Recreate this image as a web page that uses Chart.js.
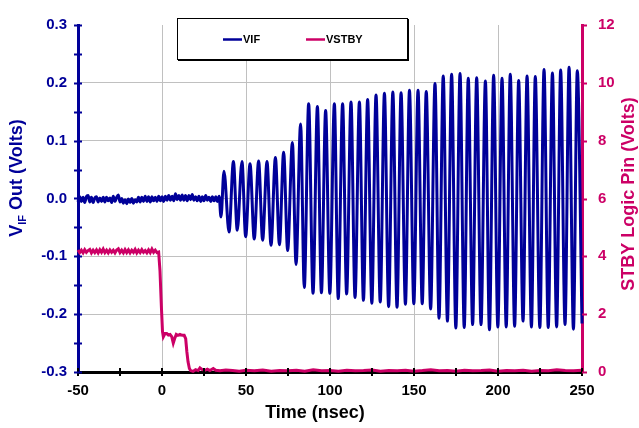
<!DOCTYPE html>
<html>
<head>
<meta charset="utf-8">
<script src="https://cdn.jsdelivr.net/npm/chart.js@4.4.1/dist/chart.umd.min.js"></script>
<style>
  body { margin: 0; background: #fff; }
  canvas { display: block; }
</style>
</head>
<body>
<canvas id="GraficoVif" width="639" height="428"></canvas>
<script>
// VIF antes do start: ruido, uma amostra por ns a partir de -50 ns
var vifRuidoInicio = -50;
var vifRuidoPasso = 1;
var vifRuido = [
    -0.006, 0.003, -0.005, 0.002, -0.007, 0.003, 0.005, -0.006, 0.002, -0.007,
    0.001, 0.003, -0.006, 0.001, -0.005, 0.002, -0.006, 0.002, -0.004, 0.001,
    -0.007, 0.004, -0.005, 0.002, 0.006, -0.006, 0.000, -0.008, -0.002, -0.009,
    -0.001, -0.007, 0.000, -0.008, -0.002, -0.006, 0.002, -0.006, 0.002, -0.005,
    0.004, -0.005, 0.003, -0.006, 0.003, -0.004, 0.002, -0.005, 0.004, -0.004,
    0.003, -0.005, 0.004, -0.003, 0.005, -0.003, 0.004, -0.004, 0.008, -0.002,
    0.005, -0.003, 0.006, -0.003, 0.005, -0.004, 0.005, -0.002, 0.007, -0.003,
    0.003, -0.004, 0.004, -0.005, 0.003, -0.004, 0.005, -0.003, 0.002, -0.005,
    0.003, -0.004, 0.003, -0.005, 0.004
];
var vifInicioT = [35.1];
var vifInicioV = [-0.032];

// oscilacao: picos e vales
var picosT = [36.9, 42.5, 47.6, 52.4, 57.5, 62.5, 67.5, 72.4, 77.6, 82.5,
    87.3, 92.5, 97.4, 102.6, 107.5, 112.5, 117.5, 122.4, 127.4, 132.4,
    137.4, 142.3, 147.3, 152.4, 157.3, 162.5, 167.4, 172.4, 177.4, 182.3,
    187.3, 192.5, 197.4, 202.4, 207.3, 212.3, 217.3, 222.2, 227.4, 232.4,
    237.3, 242.3, 247.2];
var picosV = [0.047, 0.064, 0.064, 0.060, 0.065, 0.064, 0.071, 0.080, 0.097, 0.129,
    0.164, 0.159, 0.152, 0.164, 0.164, 0.167, 0.167, 0.171, 0.179, 0.182,
    0.184, 0.183, 0.187, 0.187, 0.185, 0.199, 0.212, 0.215, 0.216, 0.208,
    0.209, 0.203, 0.213, 0.208, 0.215, 0.204, 0.212, 0.211, 0.223, 0.217,
    0.222, 0.227, 0.221];
var valesT = [39.9, 44.8, 49.8, 54.9, 59.9, 64.9, 69.9, 74.8, 79.8, 84.7,
    89.9, 94.9, 99.9, 104.9, 109.9, 114.9, 119.9, 124.9, 129.9, 134.9,
    139.9, 144.9, 149.9, 154.9, 159.9, 164.9, 169.9, 174.9, 179.9, 184.9,
    189.9, 194.9, 199.9, 204.9, 209.9, 214.9, 219.9, 224.9, 229.9, 234.9,
    239.9, 244.9, 250];
var valesV = [-0.058, -0.055, -0.066, -0.070, -0.072, -0.081, -0.080, -0.090, -0.114, -0.154,
    -0.164, -0.163, -0.164, -0.173, -0.165, -0.171, -0.176, -0.181, -0.179, -0.187,
    -0.188, -0.183, -0.182, -0.182, -0.191, -0.207, -0.212, -0.224, -0.223, -0.218,
    -0.218, -0.227, -0.222, -0.222, -0.221, -0.212, -0.222, -0.223, -0.223, -0.222,
    -0.218, -0.226, -0.216];

// VSTBY: nivel alto, uma amostra por ns de -50 a -3 ns
var stbyAltoInicio = -50;
var stbyAltoPasso = 1;
var stbyAlto = [
    4.22, 4.13, 4.21, 4.12, 4.23, 4.14, 4.20, 4.24, 4.12, 4.21,
    4.13, 4.22, 4.12, 4.23, 4.14, 4.25, 4.13, 4.21, 4.12, 4.22,
    4.14, 4.21, 4.12, 4.22, 4.26, 4.13, 4.21, 4.12, 4.23, 4.13,
    4.22, 4.12, 4.21, 4.14, 4.24, 4.12, 4.21, 4.13, 4.23, 4.14,
    4.20, 4.12, 4.22, 4.13, 4.25, 4.14, 4.21, 4.13
];
// descida e resto da curva
var stbyT = [-2.0, -1.2, -0.4, 0.3, 0.8, 1.8, 2.8, 3.8, 4.8, 5.8,
    6.7, 7.5, 8.5, 9.5, 10.7, 12.0, 13.2, 14.1, 14.8, 15.5,
    16.3, 17.0, 18.5, 20.0, 21.5, 22.6, 24.0, 25.6, 27.0, 28.5,
    30.5, 32.0, 34.5, 38, 42, 46, 50, 55, 60, 65,
    70, 75, 80, 85, 90, 95, 100, 105, 110, 115,
    120, 125, 130, 135, 140, 145, 150, 155, 160, 165,
    170, 175, 180, 185, 190, 195, 200, 205, 210, 215,
    220, 225, 230, 235, 240, 245, 250];
var stbyV = [4.15, 3.50, 2.30, 1.40, 1.22, 1.33, 1.33, 1.28, 1.30, 1.22,
    1.00, 1.15, 1.30, 1.27, 1.30, 1.27, 1.27, 1.15, 0.70, 0.35,
    0.12, 0.05, 0.02, 0.08, 0.05, 0.14, 0.08, 0.06, 0.10, 0.05,
    0.12, 0.06, 0.04, 0.07, 0.05, 0.03, 0.06, 0.04, 0.07, 0.03,
    0.05, 0.04, 0.06, 0.03, 0.08, 0.04, 0.05, 0.03, 0.06, 0.04,
    0.05, 0.07, 0.03, 0.05, 0.04, 0.06, 0.03, 0.05, 0.08, 0.04,
    0.05, 0.03, 0.06, 0.04, 0.05, 0.07, 0.03, 0.05, 0.04, 0.06,
    0.03, 0.05, 0.04, 0.08, 0.05, 0.04, 0.06];

// eixos
var eixoX = { min: -50, max: 250, passo: 50, passoMarca: 25 };
var eixoVif = { min: -0.3, max: 0.3, passo: 0.1, passoMarca: 0.05 };
var eixoStby = { min: 0, max: 12, passo: 2 };

var corVif = '#000099';
var corStby = '#cc0066';
var fonte = '"Liberation Sans", Arial, sans-serif';

function MontarVif() {
    var pontos = [];
    for (var i = 0; i < vifRuido.length; i++) {
        pontos.push({ x: vifRuidoInicio + i * vifRuidoPasso, y: vifRuido[i] });
    }
    for (var j = 0; j < vifInicioT.length; j++) {
        pontos.push({ x: vifInicioT[j], y: vifInicioV[j] });
    }
    for (var k = 0; k < picosT.length; k++) {
        pontos.push({ x: picosT[k], y: picosV[k] });
        pontos.push({ x: valesT[k], y: valesV[k] });
    }
    return pontos;
}

function MontarStby() {
    var pontos = [];
    for (var i = 0; i < stbyAlto.length; i++) {
        pontos.push({ x: stbyAltoInicio + i * stbyAltoPasso, y: stbyAlto[i] });
    }
    for (var j = 0; j < stbyT.length; j++) {
        pontos.push({ x: stbyT[j], y: stbyV[j] });
    }
    return pontos;
}

// marcas cruzando os eixos, titulos e legenda no estilo do Excel
var extras = {
    id: 'extras',
    afterDraw: function (chart) {
        var ctx = chart.ctx;
        var area = chart.chartArea;
        var sx = chart.scales.x, sy = chart.scales.y, sy2 = chart.scales.y2;
        var v, p;
        ctx.save();

        ctx.lineWidth = 2;
        ctx.strokeStyle = '#000000';
        for (v = eixoX.min; v <= eixoX.max; v += eixoX.passoMarca) {
            p = Math.round(sx.getPixelForValue(v));
            ctx.beginPath(); ctx.moveTo(p, area.bottom - 4); ctx.lineTo(p, area.bottom + 4); ctx.stroke();
        }
        ctx.strokeStyle = corVif;
        for (var n = 0; n <= Math.round((eixoVif.max - eixoVif.min) / eixoVif.passoMarca); n++) {
            p = Math.round(sy.getPixelForValue(eixoVif.min + n * eixoVif.passoMarca)) + 0.5;
            ctx.beginPath(); ctx.moveTo(area.left - 4, p); ctx.lineTo(area.left + 4, p); ctx.stroke();
        }
        ctx.strokeStyle = corStby;
        for (v = eixoStby.min; v <= eixoStby.max; v += eixoStby.passo) {
            p = Math.round(sy2.getPixelForValue(v)) + 0.5;
            ctx.beginPath(); ctx.moveTo(area.right, p); ctx.lineTo(area.right + 5, p); ctx.stroke();
        }

        // titulos dos eixos
        ctx.textBaseline = 'alphabetic';
        ctx.fillStyle = '#000000';
        ctx.font = 'bold 18px ' + fonte;
        ctx.textAlign = 'center';
        ctx.fillText('Time (nsec)', 315, 418);

        ctx.save();
        ctx.translate(22, 178);
        ctx.rotate(-Math.PI / 2);
        ctx.fillStyle = corVif;
        ctx.textAlign = 'left';
        ctx.font = 'bold 18px ' + fonte;
        var wV = ctx.measureText('V').width;
        var wResto = ctx.measureText(' Out (Volts)').width;
        ctx.font = 'bold 11px ' + fonte;
        var wSub = ctx.measureText('IF').width;
        var x0 = -(wV + wSub + wResto) / 2;
        ctx.font = 'bold 18px ' + fonte;
        ctx.fillText('V', x0, 0);
        ctx.font = 'bold 11px ' + fonte;
        ctx.fillText('IF', x0 + wV, 4);
        ctx.font = 'bold 18px ' + fonte;
        ctx.fillText(' Out (Volts)', x0 + wV + wSub, 0);
        ctx.restore();

        ctx.save();
        ctx.translate(634, 194);
        ctx.rotate(-Math.PI / 2);
        ctx.fillStyle = corStby;
        ctx.textAlign = 'center';
        ctx.font = 'bold 18px ' + fonte;
        ctx.fillText('STBY Logic Pin (Volts)', 0, 0);
        ctx.restore();

        // legenda
        ctx.fillStyle = '#ffffff';
        ctx.fillRect(178, 19, 230, 41);
        ctx.strokeStyle = '#000000';
        ctx.lineWidth = 1;
        ctx.strokeRect(177.5, 18.5, 230, 41);
        ctx.fillStyle = '#000000';
        ctx.fillRect(408, 19, 1, 42);
        ctx.fillRect(178, 60, 231, 1);
        var itens = [{ x: 223, t: 243 }, { x: 306, t: 326 }];
        ctx.font = 'bold 11px ' + fonte;
        ctx.textAlign = 'left';
        ctx.textBaseline = 'middle';
        chart.data.datasets.forEach(function (ds, i) {
            ctx.strokeStyle = ds.borderColor;
            ctx.lineWidth = 2.5;
            ctx.beginPath(); ctx.moveTo(itens[i].x, 39.5); ctx.lineTo(itens[i].x + 19, 39.5); ctx.stroke();
            ctx.fillStyle = '#000000';
            ctx.fillText(ds.label, itens[i].t, 40);
        });
        ctx.restore();
    }
};

function Rotulo(v) {
    if (Math.abs(v) < 1e-9) return '0.0';
    return v.toFixed(1);
}

new Chart(document.getElementById('GraficoVif'), {
    type: 'line',
    data: {
        datasets: [{
            label: 'VIF',
            data: MontarVif(),
            yAxisID: 'y',
            borderColor: corVif,
            borderWidth: 3,
            pointRadius: 0,
            cubicInterpolationMode: 'monotone',
            fill: false,
            clip: 4
        }, {
            label: 'VSTBY',
            data: MontarStby(),
            yAxisID: 'y2',
            borderColor: corStby,
            borderWidth: 3,
            pointRadius: 0,
            tension: 0,
            fill: false,
            clip: 4
        }]
    },
    options: {
        responsive: false,
        animation: false,
        devicePixelRatio: 1,
        layout: { padding: { top: 13, left: 0, right: 0, bottom: 0 } },
        plugins: {
            legend: { display: false },
            tooltip: { enabled: false },
            title: { display: false }
        },
        scales: {
            x: {
                type: 'linear',
                min: eixoX.min,
                max: eixoX.max,
                afterFit: function (s) { s.height = 56; },
                border: { color: '#000000', width: 3 },
                grid: {
                    drawTicks: false,
                    color: function (c) {
                        var v = c.tick ? c.tick.value : 0;
                        return (v === eixoX.min || v === eixoX.max) ? 'rgba(0,0,0,0)' : '#c0c0c0';
                    }
                },
                ticks: {
                    stepSize: eixoX.passo,
                    autoSkip: false,
                    maxRotation: 0,
                    padding: 10,
                    color: '#000000',
                    font: { family: fonte, size: 15, weight: 'bold' }
                }
            },
            y: {
                position: 'left',
                min: eixoVif.min,
                max: eixoVif.max,
                afterFit: function (s) { s.width = 78; },
                border: { color: corVif, width: 3 },
                grid: {
                    drawTicks: false,
                    color: function (c) {
                        var v = c.tick ? c.tick.value : 0;
                        return (Math.abs(v) > 0.29) ? 'rgba(0,0,0,0)' : '#c0c0c0';
                    }
                },
                ticks: {
                    stepSize: eixoVif.passo,
                    padding: 11,
                    color: corVif,
                    font: { family: fonte, size: 15, weight: 'bold' },
                    callback: function (v) { return Rotulo(v); }
                }
            },
            y2: {
                position: 'right',
                min: eixoStby.min,
                max: eixoStby.max,
                afterFit: function (s) { s.width = 57; },
                border: { color: corStby, width: 3 },
                grid: { display: false, drawTicks: false },
                ticks: {
                    stepSize: eixoStby.passo,
                    padding: 16,
                    color: corStby,
                    font: { family: fonte, size: 15, weight: 'bold' }
                }
            }
        }
    },
    plugins: [extras]
});
</script>
</body>
</html>
